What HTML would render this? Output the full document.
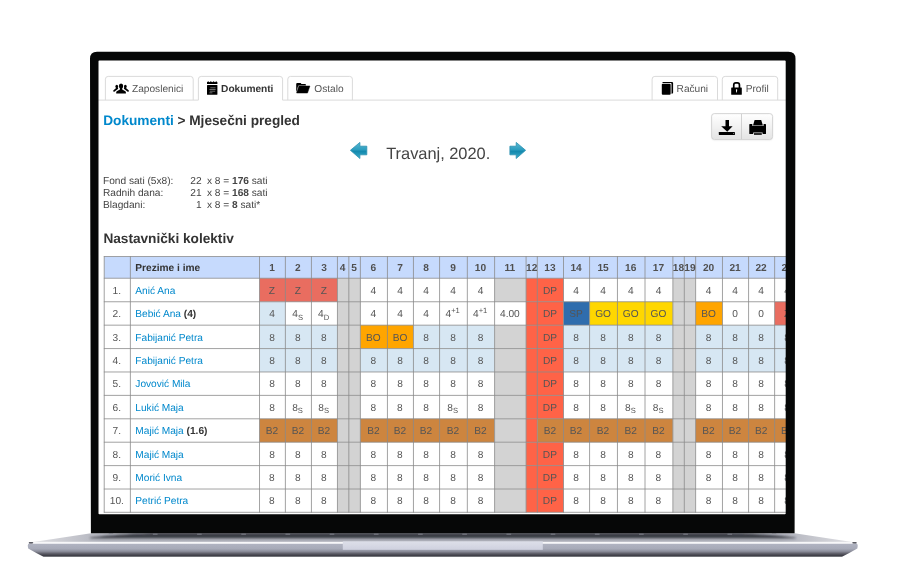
<!DOCTYPE html>
<html lang="hr"><head><meta charset="utf-8"><title>Mjesečni pregled</title>
<style>
html,body{margin:0;padding:0;background:#fff;}
body{text-rendering:geometricPrecision;width:898px;height:580px;position:relative;overflow:hidden;font-family:"Liberation Sans",Arial,sans-serif;font-size:13px;color:#333;line-height:15px;}
#screen{position:absolute;left:98px;top:60px;width:689px;height:455px;background:#fff;overflow:hidden;}
#cwrap{position:absolute;left:0;top:0;width:10px;height:10px;transform:translate(0.5px,0px);}
#content{position:absolute;left:0;top:0;width:3528px;height:2332px;font-size:52px;line-height:60px;transform:scale(0.194825) rotate(0.005deg);transform-origin:0 0;}
#content *{box-sizing:border-box;}
.tab{position:absolute;top:80px;height:124px;border:4px solid transparent;border-bottom:none;background:none;border-radius:16px 16px 0 0;color:#555;white-space:nowrap;}
.tab.act{height:128px;color:#333;font-weight:bold;}
.tab span{position:absolute;top:33.6px;}
h4{position:absolute;margin:0;font-size:70px;font-weight:bold;color:#333;white-space:nowrap;line-height:80px;}
h4 a{color:#0088cc;}
.info{position:absolute;left:23.2px;top:588px;width:1200px;white-space:pre;color:#444;line-height:61.4px;}
.info div{position:relative;height:61.4px;}
.info span{position:absolute;top:0;left:0;}
.info span.n{left:auto;right:694px;}
.info span.r{left:533.6px;}
.title{position:absolute;left:1476.8px;top:429.6px;font-size:84px;line-height:96px;color:#444;white-space:nowrap;}
.btng{position:absolute;left:3144.8px;top:272.8px;width:317.6px;height:137.6px;border:4px solid #c8c8c8;border-radius:16px;background:linear-gradient(#fff,#e4e4e4);box-shadow:0 4px 8px rgba(0,0,0,.06);}
.btng i{position:absolute;left:149.2px;top:0;width:4px;height:100%;background:#c8c8c8;}
.cells div{position:absolute;text-align:center;white-space:nowrap;color:#555;padding-right:4.8px;}
.cells div.ss{padding-right:8px;}
.cells div.h{font-weight:bold;color:#505050;}
.cells div.nm{text-align:left;padding-left:25.6px;color:#333;}
.cells div.nm a{color:#0088cc;}
sub,sup{font-size:39px;line-height:0;position:relative;vertical-align:baseline;}
sub{bottom:-12px;}
sup{top:-20.8px;}
</style></head><body>

<svg id="base" style="position:absolute;left:0;top:0" width="898" height="580" viewBox="0 0 898 580">
<defs>
<linearGradient id="gTop" x1="30" y1="0" x2="855.5" y2="0" gradientUnits="userSpaceOnUse"><stop offset="0" stop-color="#e2e2e6"/><stop offset="0.05" stop-color="#c6c7ce"/><stop offset="0.09" stop-color="#b0b2bc"/><stop offset="0.5" stop-color="#adafba"/><stop offset="0.91" stop-color="#b0b2bc"/><stop offset="0.95" stop-color="#c6c7ce"/><stop offset="1" stop-color="#e2e2e6"/></linearGradient>
<linearGradient id="gFace" x1="0" y1="543" x2="0" y2="556.8" gradientUnits="userSpaceOnUse"><stop offset="0" stop-color="#b2b5c3"/><stop offset="0.42" stop-color="#a7aab8"/><stop offset="0.6" stop-color="#8d8f9c"/><stop offset="0.78" stop-color="#5a5b65"/><stop offset="0.92" stop-color="#3c3d46"/><stop offset="1" stop-color="#474851"/></linearGradient>
<linearGradient id="gNotch" x1="0" y1="541.3" x2="0" y2="549.8" gradientUnits="userSpaceOnUse"><stop offset="0" stop-color="#dddfe9"/><stop offset="1" stop-color="#cfd1df"/></linearGradient>
<filter id="bl" x="-5%" y="-50%" width="110%" height="200%"><feGaussianBlur stdDeviation="0.55"/></filter>
<filter id="bl2" x="-5%" y="-100%" width="110%" height="300%"><feGaussianBlur stdDeviation="0.8"/></filter>
</defs>
<g filter="url(#bl)">
<path d="M30 542.4 L91 533.2 L794.5 533.2 L855.5 542.4 Z" fill="url(#gTop)"/>
<path filter="url(#bl2)" d="M90 537.4 C112 535.4 130 533 165 533 L720.5 533 C755.5 533 773.5 535.4 795.5 537.4 L795.5 538.2 L90 538.2 Z" fill="#3a3c45"/>
<rect x="108.6" y="533.6" width="4.8" height="1" rx="0.5" fill="#8f919b"/><rect x="152.8" y="533.6" width="4.8" height="1" rx="0.5" fill="#8f919b"/><rect x="197.0" y="533.6" width="4.8" height="1" rx="0.5" fill="#8f919b"/><rect x="241.2" y="533.6" width="4.8" height="1" rx="0.5" fill="#8f919b"/><rect x="285.4" y="533.6" width="4.8" height="1" rx="0.5" fill="#8f919b"/><rect x="329.6" y="533.6" width="4.8" height="1" rx="0.5" fill="#8f919b"/><rect x="373.8" y="533.6" width="4.8" height="1" rx="0.5" fill="#8f919b"/><rect x="418.0" y="533.6" width="4.8" height="1" rx="0.5" fill="#8f919b"/><rect x="462.2" y="533.6" width="4.8" height="1" rx="0.5" fill="#8f919b"/><rect x="506.4" y="533.6" width="4.8" height="1" rx="0.5" fill="#8f919b"/><rect x="550.6" y="533.6" width="4.8" height="1" rx="0.5" fill="#8f919b"/><rect x="594.8" y="533.6" width="4.8" height="1" rx="0.5" fill="#8f919b"/><rect x="639.0" y="533.6" width="4.8" height="1" rx="0.5" fill="#8f919b"/><rect x="683.2" y="533.6" width="4.8" height="1" rx="0.5" fill="#8f919b"/><rect x="727.4" y="533.6" width="4.8" height="1" rx="0.5" fill="#8f919b"/><rect x="771.6" y="533.6" width="4.8" height="1" rx="0.5" fill="#8f919b"/>
<path d="M29.5 543.2 Q27.6 543.6 27.8 546 L28.2 548.6 Q35 552.6 43.5 556.7 L842 556.7 Q850.5 552.6 857.3 548.6 L857.7 546 Q857.9 543.6 856 543.2 Z" fill="url(#gFace)"/>
<rect x="32" y="541.8" width="821.5" height="1.9" fill="#f7f7f9"/>
<rect x="342.8" y="541.4" width="200" height="8.4" fill="url(#gNotch)"/>
<rect x="28.8" y="541.9" width="4.4" height="1.5" rx="0.7" fill="#5b5c64"/>
<rect x="852.3" y="541.9" width="4.4" height="1.5" rx="0.7" fill="#5b5c64"/>
</g>

</svg>

<div id="screen"><svg id="grid" style="position:absolute;left:-98px;top:-60px" width="898" height="580" viewBox="0 0 898 580">
<path d="M105.4 100.1V79.2Q105.4 76.4 108.2 76.4H190.39999999999998Q193.2 76.4 193.2 79.2V100.1M198.4 100.1V79.2Q198.4 76.4 201.20000000000002 76.4H279.8Q282.6 76.4 282.6 79.2V100.1M287.8 100.1V79.2Q287.8 76.4 290.6 76.4H349.59999999999997Q352.4 76.4 352.4 79.2V100.1M652.1 100.1V79.2Q652.1 76.4 654.9 76.4H714.7Q717.5 76.4 717.5 79.2V100.1M722.3 100.1V79.2Q722.3 76.4 725.0999999999999 76.4H774.9000000000001Q777.7 76.4 777.7 79.2V100.1M98 100.1H198.4M282.6 100.1H787" stroke="#d8d8d8" stroke-width="0.95" fill="none"/>
<rect x="104.22" y="256.52" width="696.48" height="21.72" fill="#c6dafd"/>
<rect x="259.52" y="278.24" width="77.93" height="23.51" fill="#e96d60"/>
<rect x="337.45" y="278.24" width="22.92" height="23.51" fill="#d3d3d3"/>
<rect x="494.60" y="278.24" width="31.49" height="23.51" fill="#d3d3d3"/>
<rect x="526.09" y="278.24" width="37.41" height="23.51" fill="#ff6347"/>
<rect x="672.88" y="278.24" width="22.75" height="23.51" fill="#d3d3d3"/>
<rect x="259.52" y="301.75" width="25.86" height="23.41" fill="#d7e7f3"/>
<rect x="337.45" y="301.75" width="22.92" height="23.41" fill="#d3d3d3"/>
<rect x="526.09" y="301.75" width="37.41" height="23.41" fill="#ff6347"/>
<rect x="563.50" y="301.75" width="26.08" height="23.41" fill="#2f6dad"/>
<rect x="589.58" y="301.75" width="83.30" height="23.41" fill="#ffd700"/>
<rect x="672.88" y="301.75" width="22.75" height="23.41" fill="#d3d3d3"/>
<rect x="695.63" y="301.75" width="26.83" height="23.41" fill="#ffa500"/>
<rect x="774.64" y="301.75" width="26.06" height="23.41" fill="#e96d60"/>
<rect x="259.52" y="325.16" width="77.93" height="23.41" fill="#d7e7f3"/>
<rect x="337.45" y="325.16" width="22.92" height="23.41" fill="#d3d3d3"/>
<rect x="360.37" y="325.16" width="53.08" height="23.41" fill="#ffa500"/>
<rect x="413.45" y="325.16" width="81.15" height="23.41" fill="#d7e7f3"/>
<rect x="494.60" y="325.16" width="31.49" height="23.41" fill="#d3d3d3"/>
<rect x="526.09" y="325.16" width="37.41" height="23.41" fill="#ff6347"/>
<rect x="563.50" y="325.16" width="109.38" height="23.41" fill="#d7e7f3"/>
<rect x="672.88" y="325.16" width="22.75" height="23.41" fill="#d3d3d3"/>
<rect x="695.63" y="325.16" width="105.07" height="23.41" fill="#d7e7f3"/>
<rect x="259.52" y="348.57" width="77.93" height="23.41" fill="#d7e7f3"/>
<rect x="337.45" y="348.57" width="22.92" height="23.41" fill="#d3d3d3"/>
<rect x="360.37" y="348.57" width="134.23" height="23.41" fill="#d7e7f3"/>
<rect x="494.60" y="348.57" width="31.49" height="23.41" fill="#d3d3d3"/>
<rect x="526.09" y="348.57" width="37.41" height="23.41" fill="#ff6347"/>
<rect x="563.50" y="348.57" width="109.38" height="23.41" fill="#d7e7f3"/>
<rect x="672.88" y="348.57" width="22.75" height="23.41" fill="#d3d3d3"/>
<rect x="695.63" y="348.57" width="105.07" height="23.41" fill="#d7e7f3"/>
<rect x="337.45" y="371.98" width="22.92" height="23.41" fill="#d3d3d3"/>
<rect x="494.60" y="371.98" width="31.49" height="23.41" fill="#d3d3d3"/>
<rect x="526.09" y="371.98" width="37.41" height="23.41" fill="#ff6347"/>
<rect x="672.88" y="371.98" width="22.75" height="23.41" fill="#d3d3d3"/>
<rect x="337.45" y="395.39" width="22.92" height="23.41" fill="#d3d3d3"/>
<rect x="494.60" y="395.39" width="31.49" height="23.41" fill="#d3d3d3"/>
<rect x="526.09" y="395.39" width="37.41" height="23.41" fill="#ff6347"/>
<rect x="672.88" y="395.39" width="22.75" height="23.41" fill="#d3d3d3"/>
<rect x="259.52" y="418.80" width="77.93" height="23.41" fill="#cd853f"/>
<rect x="337.45" y="418.80" width="22.92" height="23.41" fill="#d3d3d3"/>
<rect x="360.37" y="418.80" width="134.23" height="23.41" fill="#cd853f"/>
<rect x="494.60" y="418.80" width="31.49" height="23.41" fill="#d3d3d3"/>
<rect x="526.09" y="418.80" width="11.23" height="23.41" fill="#ff6347"/>
<rect x="537.32" y="418.80" width="135.56" height="23.41" fill="#cd853f"/>
<rect x="672.88" y="418.80" width="22.75" height="23.41" fill="#d3d3d3"/>
<rect x="695.63" y="418.80" width="105.07" height="23.41" fill="#cd853f"/>
<rect x="337.45" y="442.21" width="22.92" height="23.41" fill="#d3d3d3"/>
<rect x="494.60" y="442.21" width="31.49" height="23.41" fill="#d3d3d3"/>
<rect x="526.09" y="442.21" width="37.41" height="23.41" fill="#ff6347"/>
<rect x="672.88" y="442.21" width="22.75" height="23.41" fill="#d3d3d3"/>
<rect x="337.45" y="465.62" width="22.92" height="23.41" fill="#d3d3d3"/>
<rect x="494.60" y="465.62" width="31.49" height="23.41" fill="#d3d3d3"/>
<rect x="526.09" y="465.62" width="37.41" height="23.41" fill="#ff6347"/>
<rect x="672.88" y="465.62" width="22.75" height="23.41" fill="#d3d3d3"/>
<rect x="337.45" y="489.03" width="22.92" height="23.27" fill="#d3d3d3"/>
<rect x="494.60" y="489.03" width="31.49" height="23.27" fill="#d3d3d3"/>
<rect x="526.09" y="489.03" width="37.41" height="23.27" fill="#ff6347"/>
<rect x="672.88" y="489.03" width="22.75" height="23.27" fill="#d3d3d3"/>
<path d="M104.22 256.13V512.69M130.38 256.13V512.69M259.52 256.13V512.69M285.38 256.13V512.69M311.43 256.13V512.69M337.45 256.13V512.69M348.84 256.13V512.69M360.37 256.13V512.69M387.43 256.13V512.69M413.45 256.13V512.69M439.58 256.13V512.69M467.34 256.13V512.69M494.60 256.13V512.69M526.09 256.13V512.69M537.32 256.13V512.69M563.50 256.13V512.69M589.58 256.13V512.69M617.44 256.13V512.69M645.00 256.13V512.69M672.88 256.13V512.69M684.31 256.13V512.69M695.63 256.13V512.69M722.46 256.13V512.69M748.58 256.13V512.69M774.64 256.13V512.69M800.70 256.13V512.69M103.83 256.52H800.70M103.83 278.24H800.70M103.83 301.75H800.70M103.83 325.16H800.70M103.83 348.57H800.70M103.83 371.98H800.70M103.83 395.39H800.70M103.83 418.80H800.70M103.83 442.21H800.70M103.83 465.62H800.70M103.83 489.03H800.70M103.83 512.30H800.70" stroke="#8a8a8a" stroke-width="0.8" fill="none"/>
</svg><div id="cwrap"><div id="content">
<div class="tab" style="left:30.4px;width:457.6px;"><span style="left:137.6px">Zaposlenici</span></div>
<div class="tab act" style="left:508px;width:438.8px;"><span style="left:117.2px">Dokumenti</span></div>
<div class="tab" style="left:967.2px;width:338px;"><span style="left:136.4px">Ostalo</span></div>
<div class="tab" style="left:2837.6px;width:341.6px;"><span style="left:125.6px">Računi</span></div>
<div class="tab" style="left:3198px;width:290.4px;"><span style="left:119.6px">Profil</span></div>
<h4 style="left:24.4px;top:270px;"><a>Dokumenti</a> &gt; Mjesečni pregled</h4>
<div class="btng"><i></i></div>
<div class="title">Travanj, 2020.</div>
<div class="info"><div><span>Fond sati (5x8):</span><span class="n">22</span><span class="r">x 8 = <b>176</b> sati</span></div><div><span>Radnih dana:</span><span class="n">21</span><span class="r">x 8 = <b>168</b> sati</span></div><div><span>Blagdani:</span><span class="n">1</span><span class="r">x 8 = <b>8</b> sati*</span></div></div>
<h4 style="left:25.2px;top:876px;">Nastavnički kolektiv</h4>
<div class="cells">
<div class="h nm" style="left:163.64px;top:1010.24px;width:662.84px;height:111.48px;line-height:111.48px">Prezime i ime</div>
<div class="h" style="left:826.48px;top:1010.24px;width:132.72px;height:111.48px;line-height:111.48px">1</div>
<div class="h" style="left:959.2px;top:1010.24px;width:133.72px;height:111.48px;line-height:111.48px">2</div>
<div class="h" style="left:1092.92px;top:1010.24px;width:133.56px;height:111.48px;line-height:111.48px">3</div>
<div class="h" style="left:1226.48px;top:1010.24px;width:58.48px;height:111.48px;line-height:111.48px">4</div>
<div class="h" style="left:1284.96px;top:1010.24px;width:59.2px;height:111.48px;line-height:111.48px">5</div>
<div class="h" style="left:1344.12px;top:1010.24px;width:138.88px;height:111.48px;line-height:111.48px">6</div>
<div class="h" style="left:1483.04px;top:1010.24px;width:133.56px;height:111.48px;line-height:111.48px">7</div>
<div class="h" style="left:1616.56px;top:1010.24px;width:134.12px;height:111.48px;line-height:111.48px">8</div>
<div class="h" style="left:1750.68px;top:1010.24px;width:142.48px;height:111.48px;line-height:111.48px">9</div>
<div class="h" style="left:1893.2px;top:1010.24px;width:139.92px;height:111.48px;line-height:111.48px">10</div>
<div class="h" style="left:2033.12px;top:1010.24px;width:161.64px;height:111.48px;line-height:111.48px">11</div>
<div class="h" style="left:2194.72px;top:1010.24px;width:57.64px;height:111.48px;line-height:111.48px">12</div>
<div class="h" style="left:2252.4px;top:1010.24px;width:134.36px;height:111.48px;line-height:111.48px">13</div>
<div class="h" style="left:2386.76px;top:1010.24px;width:133.88px;height:111.48px;line-height:111.48px">14</div>
<div class="h" style="left:2520.64px;top:1010.24px;width:143px;height:111.48px;line-height:111.48px">15</div>
<div class="h" style="left:2663.64px;top:1010.24px;width:141.48px;height:111.48px;line-height:111.48px">16</div>
<div class="h" style="left:2805.08px;top:1010.24px;width:143.12px;height:111.48px;line-height:111.48px">17</div>
<div class="h" style="left:2948.2px;top:1010.24px;width:58.68px;height:111.48px;line-height:111.48px">18</div>
<div class="h" style="left:3006.84px;top:1010.24px;width:58.12px;height:111.48px;line-height:111.48px">19</div>
<div class="h" style="left:3064.96px;top:1010.24px;width:137.72px;height:111.48px;line-height:111.48px">20</div>
<div class="h" style="left:3202.68px;top:1010.24px;width:134.08px;height:111.48px;line-height:111.48px">21</div>
<div class="h" style="left:3336.72px;top:1010.24px;width:133.76px;height:111.48px;line-height:111.48px">22</div>
<div class="h" style="left:3470.48px;top:1010.24px;width:133.76px;height:111.48px;line-height:111.48px">23</div>
<div style="left:29.36px;top:1122.12px;width:134.28px;height:120.68px;line-height:120.68px">1.</div>
<div class="nm" style="left:163.64px;top:1122.12px;width:662.84px;height:120.68px;line-height:120.68px"><a>Anić Ana</a></div>
<div style="left:826.48px;top:1122.12px;width:132.72px;height:120.68px;line-height:120.68px">Z</div>
<div style="left:959.2px;top:1122.12px;width:133.72px;height:120.68px;line-height:120.68px">Z</div>
<div style="left:1092.92px;top:1122.12px;width:133.56px;height:120.68px;line-height:120.68px">Z</div>
<div style="left:1344.12px;top:1122.12px;width:138.88px;height:120.68px;line-height:120.68px">4</div>
<div style="left:1483.04px;top:1122.12px;width:133.56px;height:120.68px;line-height:120.68px">4</div>
<div style="left:1616.56px;top:1122.12px;width:134.12px;height:120.68px;line-height:120.68px">4</div>
<div style="left:1750.68px;top:1122.12px;width:142.48px;height:120.68px;line-height:120.68px">4</div>
<div style="left:1893.2px;top:1122.12px;width:139.92px;height:120.68px;line-height:120.68px">4</div>
<div style="left:2252.4px;top:1122.12px;width:134.36px;height:120.68px;line-height:120.68px">DP</div>
<div style="left:2386.76px;top:1122.12px;width:133.88px;height:120.68px;line-height:120.68px">4</div>
<div style="left:2520.64px;top:1122.12px;width:143px;height:120.68px;line-height:120.68px">4</div>
<div style="left:2663.64px;top:1122.12px;width:141.48px;height:120.68px;line-height:120.68px">4</div>
<div style="left:2805.08px;top:1122.12px;width:143.12px;height:120.68px;line-height:120.68px">4</div>
<div style="left:3064.96px;top:1122.12px;width:137.72px;height:120.68px;line-height:120.68px">4</div>
<div style="left:3202.68px;top:1122.12px;width:134.08px;height:120.68px;line-height:120.68px">4</div>
<div style="left:3336.72px;top:1122.12px;width:133.76px;height:120.68px;line-height:120.68px">4</div>
<div style="left:3470.48px;top:1122.12px;width:133.76px;height:120.68px;line-height:120.68px">4</div>
<div style="left:29.36px;top:1242.8px;width:134.28px;height:120.16px;line-height:120.16px">2.</div>
<div class="nm" style="left:163.64px;top:1242.8px;width:662.84px;height:120.16px;line-height:120.16px"><a>Bebić Ana</a> <b>(4)</b></div>
<div style="left:826.48px;top:1242.8px;width:132.72px;height:120.16px;line-height:120.16px">4</div>
<div class="ss" style="left:959.2px;top:1242.8px;width:133.72px;height:120.16px;line-height:120.16px">4<sub>S</sub></div>
<div class="ss" style="left:1092.92px;top:1242.8px;width:133.56px;height:120.16px;line-height:120.16px">4<sub>D</sub></div>
<div style="left:1344.12px;top:1242.8px;width:138.88px;height:120.16px;line-height:120.16px">4</div>
<div style="left:1483.04px;top:1242.8px;width:133.56px;height:120.16px;line-height:120.16px">4</div>
<div style="left:1616.56px;top:1242.8px;width:134.12px;height:120.16px;line-height:120.16px">4</div>
<div class="ss" style="left:1750.68px;top:1242.8px;width:142.48px;height:120.16px;line-height:120.16px">4<sup>+1</sup></div>
<div class="ss" style="left:1893.2px;top:1242.8px;width:139.92px;height:120.16px;line-height:120.16px">4<sup>+1</sup></div>
<div style="left:2033.12px;top:1242.8px;width:161.64px;height:120.16px;line-height:120.16px">4.00</div>
<div style="left:2252.4px;top:1242.8px;width:134.36px;height:120.16px;line-height:120.16px">DP</div>
<div style="left:2386.76px;top:1242.8px;width:133.88px;height:120.16px;line-height:120.16px">SP</div>
<div style="left:2520.64px;top:1242.8px;width:143px;height:120.16px;line-height:120.16px">GO</div>
<div style="left:2663.64px;top:1242.8px;width:141.48px;height:120.16px;line-height:120.16px">GO</div>
<div style="left:2805.08px;top:1242.8px;width:143.12px;height:120.16px;line-height:120.16px">GO</div>
<div style="left:3064.96px;top:1242.8px;width:137.72px;height:120.16px;line-height:120.16px">BO</div>
<div style="left:3202.68px;top:1242.8px;width:134.08px;height:120.16px;line-height:120.16px">0</div>
<div style="left:3336.72px;top:1242.8px;width:133.76px;height:120.16px;line-height:120.16px">0</div>
<div style="left:3470.48px;top:1242.8px;width:133.76px;height:120.16px;line-height:120.16px">Z</div>
<div style="left:29.36px;top:1362.96px;width:134.28px;height:120.16px;line-height:120.16px">3.</div>
<div class="nm" style="left:163.64px;top:1362.96px;width:662.84px;height:120.16px;line-height:120.16px"><a>Fabijanić Petra</a></div>
<div style="left:826.48px;top:1362.96px;width:132.72px;height:120.16px;line-height:120.16px">8</div>
<div style="left:959.2px;top:1362.96px;width:133.72px;height:120.16px;line-height:120.16px">8</div>
<div style="left:1092.92px;top:1362.96px;width:133.56px;height:120.16px;line-height:120.16px">8</div>
<div style="left:1344.12px;top:1362.96px;width:138.88px;height:120.16px;line-height:120.16px">BO</div>
<div style="left:1483.04px;top:1362.96px;width:133.56px;height:120.16px;line-height:120.16px">BO</div>
<div style="left:1616.56px;top:1362.96px;width:134.12px;height:120.16px;line-height:120.16px">8</div>
<div style="left:1750.68px;top:1362.96px;width:142.48px;height:120.16px;line-height:120.16px">8</div>
<div style="left:1893.2px;top:1362.96px;width:139.92px;height:120.16px;line-height:120.16px">8</div>
<div style="left:2252.4px;top:1362.96px;width:134.36px;height:120.16px;line-height:120.16px">DP</div>
<div style="left:2386.76px;top:1362.96px;width:133.88px;height:120.16px;line-height:120.16px">8</div>
<div style="left:2520.64px;top:1362.96px;width:143px;height:120.16px;line-height:120.16px">8</div>
<div style="left:2663.64px;top:1362.96px;width:141.48px;height:120.16px;line-height:120.16px">8</div>
<div style="left:2805.08px;top:1362.96px;width:143.12px;height:120.16px;line-height:120.16px">8</div>
<div style="left:3064.96px;top:1362.96px;width:137.72px;height:120.16px;line-height:120.16px">8</div>
<div style="left:3202.68px;top:1362.96px;width:134.08px;height:120.16px;line-height:120.16px">8</div>
<div style="left:3336.72px;top:1362.96px;width:133.76px;height:120.16px;line-height:120.16px">8</div>
<div style="left:3470.48px;top:1362.96px;width:133.76px;height:120.16px;line-height:120.16px">8</div>
<div style="left:29.36px;top:1483.12px;width:134.28px;height:120.16px;line-height:120.16px">4.</div>
<div class="nm" style="left:163.64px;top:1483.12px;width:662.84px;height:120.16px;line-height:120.16px"><a>Fabijanić Petra</a></div>
<div style="left:826.48px;top:1483.12px;width:132.72px;height:120.16px;line-height:120.16px">8</div>
<div style="left:959.2px;top:1483.12px;width:133.72px;height:120.16px;line-height:120.16px">8</div>
<div style="left:1092.92px;top:1483.12px;width:133.56px;height:120.16px;line-height:120.16px">8</div>
<div style="left:1344.12px;top:1483.12px;width:138.88px;height:120.16px;line-height:120.16px">8</div>
<div style="left:1483.04px;top:1483.12px;width:133.56px;height:120.16px;line-height:120.16px">8</div>
<div style="left:1616.56px;top:1483.12px;width:134.12px;height:120.16px;line-height:120.16px">8</div>
<div style="left:1750.68px;top:1483.12px;width:142.48px;height:120.16px;line-height:120.16px">8</div>
<div style="left:1893.2px;top:1483.12px;width:139.92px;height:120.16px;line-height:120.16px">8</div>
<div style="left:2252.4px;top:1483.12px;width:134.36px;height:120.16px;line-height:120.16px">DP</div>
<div style="left:2386.76px;top:1483.12px;width:133.88px;height:120.16px;line-height:120.16px">8</div>
<div style="left:2520.64px;top:1483.12px;width:143px;height:120.16px;line-height:120.16px">8</div>
<div style="left:2663.64px;top:1483.12px;width:141.48px;height:120.16px;line-height:120.16px">8</div>
<div style="left:2805.08px;top:1483.12px;width:143.12px;height:120.16px;line-height:120.16px">8</div>
<div style="left:3064.96px;top:1483.12px;width:137.72px;height:120.16px;line-height:120.16px">8</div>
<div style="left:3202.68px;top:1483.12px;width:134.08px;height:120.16px;line-height:120.16px">8</div>
<div style="left:3336.72px;top:1483.12px;width:133.76px;height:120.16px;line-height:120.16px">8</div>
<div style="left:3470.48px;top:1483.12px;width:133.76px;height:120.16px;line-height:120.16px">8</div>
<div style="left:29.36px;top:1603.28px;width:134.28px;height:120.16px;line-height:120.16px">5.</div>
<div class="nm" style="left:163.64px;top:1603.28px;width:662.84px;height:120.16px;line-height:120.16px"><a>Jovović Mila</a></div>
<div style="left:826.48px;top:1603.28px;width:132.72px;height:120.16px;line-height:120.16px">8</div>
<div style="left:959.2px;top:1603.28px;width:133.72px;height:120.16px;line-height:120.16px">8</div>
<div style="left:1092.92px;top:1603.28px;width:133.56px;height:120.16px;line-height:120.16px">8</div>
<div style="left:1344.12px;top:1603.28px;width:138.88px;height:120.16px;line-height:120.16px">8</div>
<div style="left:1483.04px;top:1603.28px;width:133.56px;height:120.16px;line-height:120.16px">8</div>
<div style="left:1616.56px;top:1603.28px;width:134.12px;height:120.16px;line-height:120.16px">8</div>
<div style="left:1750.68px;top:1603.28px;width:142.48px;height:120.16px;line-height:120.16px">8</div>
<div style="left:1893.2px;top:1603.28px;width:139.92px;height:120.16px;line-height:120.16px">8</div>
<div style="left:2252.4px;top:1603.28px;width:134.36px;height:120.16px;line-height:120.16px">DP</div>
<div style="left:2386.76px;top:1603.28px;width:133.88px;height:120.16px;line-height:120.16px">8</div>
<div style="left:2520.64px;top:1603.28px;width:143px;height:120.16px;line-height:120.16px">8</div>
<div style="left:2663.64px;top:1603.28px;width:141.48px;height:120.16px;line-height:120.16px">8</div>
<div style="left:2805.08px;top:1603.28px;width:143.12px;height:120.16px;line-height:120.16px">8</div>
<div style="left:3064.96px;top:1603.28px;width:137.72px;height:120.16px;line-height:120.16px">8</div>
<div style="left:3202.68px;top:1603.28px;width:134.08px;height:120.16px;line-height:120.16px">8</div>
<div style="left:3336.72px;top:1603.28px;width:133.76px;height:120.16px;line-height:120.16px">8</div>
<div style="left:3470.48px;top:1603.28px;width:133.76px;height:120.16px;line-height:120.16px">8</div>
<div style="left:29.36px;top:1723.44px;width:134.28px;height:120.16px;line-height:120.16px">6.</div>
<div class="nm" style="left:163.64px;top:1723.44px;width:662.84px;height:120.16px;line-height:120.16px"><a>Lukić Maja</a></div>
<div style="left:826.48px;top:1723.44px;width:132.72px;height:120.16px;line-height:120.16px">8</div>
<div class="ss" style="left:959.2px;top:1723.44px;width:133.72px;height:120.16px;line-height:120.16px">8<sub>S</sub></div>
<div class="ss" style="left:1092.92px;top:1723.44px;width:133.56px;height:120.16px;line-height:120.16px">8<sub>S</sub></div>
<div style="left:1344.12px;top:1723.44px;width:138.88px;height:120.16px;line-height:120.16px">8</div>
<div style="left:1483.04px;top:1723.44px;width:133.56px;height:120.16px;line-height:120.16px">8</div>
<div style="left:1616.56px;top:1723.44px;width:134.12px;height:120.16px;line-height:120.16px">8</div>
<div class="ss" style="left:1750.68px;top:1723.44px;width:142.48px;height:120.16px;line-height:120.16px">8<sub>S</sub></div>
<div style="left:1893.2px;top:1723.44px;width:139.92px;height:120.16px;line-height:120.16px">8</div>
<div style="left:2252.4px;top:1723.44px;width:134.36px;height:120.16px;line-height:120.16px">DP</div>
<div style="left:2386.76px;top:1723.44px;width:133.88px;height:120.16px;line-height:120.16px">8</div>
<div style="left:2520.64px;top:1723.44px;width:143px;height:120.16px;line-height:120.16px">8</div>
<div class="ss" style="left:2663.64px;top:1723.44px;width:141.48px;height:120.16px;line-height:120.16px">8<sub>S</sub></div>
<div class="ss" style="left:2805.08px;top:1723.44px;width:143.12px;height:120.16px;line-height:120.16px">8<sub>S</sub></div>
<div style="left:3064.96px;top:1723.44px;width:137.72px;height:120.16px;line-height:120.16px">8</div>
<div style="left:3202.68px;top:1723.44px;width:134.08px;height:120.16px;line-height:120.16px">8</div>
<div style="left:3336.72px;top:1723.44px;width:133.76px;height:120.16px;line-height:120.16px">8</div>
<div style="left:3470.48px;top:1723.44px;width:133.76px;height:120.16px;line-height:120.16px">8</div>
<div style="left:29.36px;top:1843.6px;width:134.28px;height:120.16px;line-height:120.16px">7.</div>
<div class="nm" style="left:163.64px;top:1843.6px;width:662.84px;height:120.16px;line-height:120.16px"><a>Majić Maja</a> <b>(1.6)</b></div>
<div style="left:826.48px;top:1843.6px;width:132.72px;height:120.16px;line-height:120.16px">B2</div>
<div style="left:959.2px;top:1843.6px;width:133.72px;height:120.16px;line-height:120.16px">B2</div>
<div style="left:1092.92px;top:1843.6px;width:133.56px;height:120.16px;line-height:120.16px">B2</div>
<div style="left:1344.12px;top:1843.6px;width:138.88px;height:120.16px;line-height:120.16px">B2</div>
<div style="left:1483.04px;top:1843.6px;width:133.56px;height:120.16px;line-height:120.16px">B2</div>
<div style="left:1616.56px;top:1843.6px;width:134.12px;height:120.16px;line-height:120.16px">B2</div>
<div style="left:1750.68px;top:1843.6px;width:142.48px;height:120.16px;line-height:120.16px">B2</div>
<div style="left:1893.2px;top:1843.6px;width:139.92px;height:120.16px;line-height:120.16px">B2</div>
<div style="left:2252.4px;top:1843.6px;width:134.36px;height:120.16px;line-height:120.16px">B2</div>
<div style="left:2386.76px;top:1843.6px;width:133.88px;height:120.16px;line-height:120.16px">B2</div>
<div style="left:2520.64px;top:1843.6px;width:143px;height:120.16px;line-height:120.16px">B2</div>
<div style="left:2663.64px;top:1843.6px;width:141.48px;height:120.16px;line-height:120.16px">B2</div>
<div style="left:2805.08px;top:1843.6px;width:143.12px;height:120.16px;line-height:120.16px">B2</div>
<div style="left:3064.96px;top:1843.6px;width:137.72px;height:120.16px;line-height:120.16px">B2</div>
<div style="left:3202.68px;top:1843.6px;width:134.08px;height:120.16px;line-height:120.16px">B2</div>
<div style="left:3336.72px;top:1843.6px;width:133.76px;height:120.16px;line-height:120.16px">B2</div>
<div style="left:3470.48px;top:1843.6px;width:133.76px;height:120.16px;line-height:120.16px">B2</div>
<div style="left:29.36px;top:1963.76px;width:134.28px;height:120.16px;line-height:120.16px">8.</div>
<div class="nm" style="left:163.64px;top:1963.76px;width:662.84px;height:120.16px;line-height:120.16px"><a>Majić Maja</a></div>
<div style="left:826.48px;top:1963.76px;width:132.72px;height:120.16px;line-height:120.16px">8</div>
<div style="left:959.2px;top:1963.76px;width:133.72px;height:120.16px;line-height:120.16px">8</div>
<div style="left:1092.92px;top:1963.76px;width:133.56px;height:120.16px;line-height:120.16px">8</div>
<div style="left:1344.12px;top:1963.76px;width:138.88px;height:120.16px;line-height:120.16px">8</div>
<div style="left:1483.04px;top:1963.76px;width:133.56px;height:120.16px;line-height:120.16px">8</div>
<div style="left:1616.56px;top:1963.76px;width:134.12px;height:120.16px;line-height:120.16px">8</div>
<div style="left:1750.68px;top:1963.76px;width:142.48px;height:120.16px;line-height:120.16px">8</div>
<div style="left:1893.2px;top:1963.76px;width:139.92px;height:120.16px;line-height:120.16px">8</div>
<div style="left:2252.4px;top:1963.76px;width:134.36px;height:120.16px;line-height:120.16px">DP</div>
<div style="left:2386.76px;top:1963.76px;width:133.88px;height:120.16px;line-height:120.16px">8</div>
<div style="left:2520.64px;top:1963.76px;width:143px;height:120.16px;line-height:120.16px">8</div>
<div style="left:2663.64px;top:1963.76px;width:141.48px;height:120.16px;line-height:120.16px">8</div>
<div style="left:2805.08px;top:1963.76px;width:143.12px;height:120.16px;line-height:120.16px">8</div>
<div style="left:3064.96px;top:1963.76px;width:137.72px;height:120.16px;line-height:120.16px">8</div>
<div style="left:3202.68px;top:1963.76px;width:134.08px;height:120.16px;line-height:120.16px">8</div>
<div style="left:3336.72px;top:1963.76px;width:133.76px;height:120.16px;line-height:120.16px">8</div>
<div style="left:3470.48px;top:1963.76px;width:133.76px;height:120.16px;line-height:120.16px">8</div>
<div style="left:29.36px;top:2083.92px;width:134.28px;height:120.16px;line-height:120.16px">9.</div>
<div class="nm" style="left:163.64px;top:2083.92px;width:662.84px;height:120.16px;line-height:120.16px"><a>Morić Ivna</a></div>
<div style="left:826.48px;top:2083.92px;width:132.72px;height:120.16px;line-height:120.16px">8</div>
<div style="left:959.2px;top:2083.92px;width:133.72px;height:120.16px;line-height:120.16px">8</div>
<div style="left:1092.92px;top:2083.92px;width:133.56px;height:120.16px;line-height:120.16px">8</div>
<div style="left:1344.12px;top:2083.92px;width:138.88px;height:120.16px;line-height:120.16px">8</div>
<div style="left:1483.04px;top:2083.92px;width:133.56px;height:120.16px;line-height:120.16px">8</div>
<div style="left:1616.56px;top:2083.92px;width:134.12px;height:120.16px;line-height:120.16px">8</div>
<div style="left:1750.68px;top:2083.92px;width:142.48px;height:120.16px;line-height:120.16px">8</div>
<div style="left:1893.2px;top:2083.92px;width:139.92px;height:120.16px;line-height:120.16px">8</div>
<div style="left:2252.4px;top:2083.92px;width:134.36px;height:120.16px;line-height:120.16px">DP</div>
<div style="left:2386.76px;top:2083.92px;width:133.88px;height:120.16px;line-height:120.16px">8</div>
<div style="left:2520.64px;top:2083.92px;width:143px;height:120.16px;line-height:120.16px">8</div>
<div style="left:2663.64px;top:2083.92px;width:141.48px;height:120.16px;line-height:120.16px">8</div>
<div style="left:2805.08px;top:2083.92px;width:143.12px;height:120.16px;line-height:120.16px">8</div>
<div style="left:3064.96px;top:2083.92px;width:137.72px;height:120.16px;line-height:120.16px">8</div>
<div style="left:3202.68px;top:2083.92px;width:134.08px;height:120.16px;line-height:120.16px">8</div>
<div style="left:3336.72px;top:2083.92px;width:133.76px;height:120.16px;line-height:120.16px">8</div>
<div style="left:3470.48px;top:2083.92px;width:133.76px;height:120.16px;line-height:120.16px">8</div>
<div style="left:29.36px;top:2204.08px;width:134.28px;height:119.44px;line-height:119.44px">10.</div>
<div class="nm" style="left:163.64px;top:2204.08px;width:662.84px;height:119.44px;line-height:119.44px"><a>Petrić Petra</a></div>
<div style="left:826.48px;top:2204.08px;width:132.72px;height:119.44px;line-height:119.44px">8</div>
<div style="left:959.2px;top:2204.08px;width:133.72px;height:119.44px;line-height:119.44px">8</div>
<div style="left:1092.92px;top:2204.08px;width:133.56px;height:119.44px;line-height:119.44px">8</div>
<div style="left:1344.12px;top:2204.08px;width:138.88px;height:119.44px;line-height:119.44px">8</div>
<div style="left:1483.04px;top:2204.08px;width:133.56px;height:119.44px;line-height:119.44px">8</div>
<div style="left:1616.56px;top:2204.08px;width:134.12px;height:119.44px;line-height:119.44px">8</div>
<div style="left:1750.68px;top:2204.08px;width:142.48px;height:119.44px;line-height:119.44px">8</div>
<div style="left:1893.2px;top:2204.08px;width:139.92px;height:119.44px;line-height:119.44px">8</div>
<div style="left:2252.4px;top:2204.08px;width:134.36px;height:119.44px;line-height:119.44px">DP</div>
<div style="left:2386.76px;top:2204.08px;width:133.88px;height:119.44px;line-height:119.44px">8</div>
<div style="left:2520.64px;top:2204.08px;width:143px;height:119.44px;line-height:119.44px">8</div>
<div style="left:2663.64px;top:2204.08px;width:141.48px;height:119.44px;line-height:119.44px">8</div>
<div style="left:2805.08px;top:2204.08px;width:143.12px;height:119.44px;line-height:119.44px">8</div>
<div style="left:3064.96px;top:2204.08px;width:137.72px;height:119.44px;line-height:119.44px">8</div>
<div style="left:3202.68px;top:2204.08px;width:134.08px;height:119.44px;line-height:119.44px">8</div>
<div style="left:3336.72px;top:2204.08px;width:133.76px;height:119.44px;line-height:119.44px">8</div>
<div style="left:3470.48px;top:2204.08px;width:133.76px;height:119.44px;line-height:119.44px">8</div>
</div>
</div></div></div>

<svg id="icons" style="position:absolute;left:0;top:0" width="898" height="580" viewBox="0 0 898 580">
<defs>
<linearGradient id="gArr" x1="0" y1="142" x2="0" y2="159" gradientUnits="userSpaceOnUse"><stop offset="0" stop-color="#5bbbd4"/><stop offset="0.45" stop-color="#2c9dbf"/><stop offset="0.55" stop-color="#1389ae"/><stop offset="1" stop-color="#3fb0cd"/></linearGradient>
</defs>
<path fill-rule="evenodd" d="M90 58.7 Q90 51.7 97 51.7 L788.5 51.7 Q795.5 51.7 795.5 58.7 L794.6 533.3 L90.9 533.3 Z M99.3 60.4 Q98.5 60.4 98.5 61.2 V513.4 Q98.5 514.2 99.3 514.2 H784.9 Q785.7 514.2 785.7 513.4 V61.2 Q785.7 60.4 784.9 60.4 Z" fill="#060707"/>
<!-- arrows -->
<path d="M350.4 150.3 L359.9 142.4 L359.9 146.2 L366.8 146.2 L366.8 154.8 L359.9 154.8 L359.9 158.5 Z" fill="url(#gArr)" stroke="#2a8fb0" stroke-width="0.8" stroke-linejoin="round"/>
<path d="M525.6 150.3 L516.2 142.4 L516.2 146.2 L509.9 146.2 L509.9 154.8 L516.2 154.8 L516.2 158.5 Z" fill="url(#gArr)" stroke="#2a8fb0" stroke-width="0.8" stroke-linejoin="round"/>
<!-- group icon -->
<g fill="#000">
<ellipse cx="121.05" cy="85.9" rx="2.15" ry="2.5"/>
<path d="M119.9 87.5 H122.2 V89.6 L125.3 91.3 Q125.9 91.7 125.9 92.5 V93.6 H116.2 V92.5 Q116.2 91.7 116.8 91.3 L119.9 89.6 Z"/>
<ellipse cx="116.75" cy="86.5" rx="1.35" ry="1.65"/>
<ellipse cx="125.35" cy="86.5" rx="1.35" ry="1.65"/>
<path d="M117.3 88.2 L114.1 90.9 M124.8 88.2 L128 90.9" stroke="#000" stroke-width="1.8" stroke-linecap="round" fill="none"/>
</g>
<!-- notepad icon -->
<g>
<path d="M207 82.2 L208.2 81.3 L209.4 82.2 L210.8 81.3 L212.2 82.2 L213.6 81.3 L215 82.2 L216.2 81.3 L217.4 82.2 V83.9 H207 Z" fill="#000"/>
<rect x="207" y="85" width="10.4" height="9.8" rx="0.5" fill="#000"/>
<rect x="210.3" y="87.3" width="5.2" height="1" fill="#6a6a6a"/>
<rect x="209.4" y="89" width="6.2" height="1" fill="#6a6a6a"/>
<rect x="209.8" y="90.7" width="5.4" height="1" fill="#6a6a6a"/>
<rect x="209.4" y="92.3" width="3" height="1" fill="#6a6a6a"/>
</g>
<!-- folder open icon -->
<g fill="#000">
<path d="M296.2 84 Q296.2 83 297.2 83 H300.4 Q301 83 301.4 83.9 H305.2 Q305.9 83.9 305.9 84.7 V85.45 H298.9 Q298.25 85.45 298 86.2 L296.55 91.4 L296.2 91.4 Z"/>
<path d="M298.9 86 H309.9 L307.5 93 H296.6 Z" stroke="#000" stroke-width="0.5" stroke-linejoin="round"/>
</g>
<!-- book icon -->
<g>
<path d="M663.2 81.9 H671.9 Q673.1 81.9 673.1 83.1 V92.8 Q673.1 93.7 671.5 93.7 V83.7 Q671.5 83 670.8 83 H662.3 Q662.4 81.9 663.2 81.9 Z" fill="#000"/>
<rect x="661.8" y="83.65" width="8.85" height="11.15" rx="1" fill="#000"/>
</g>
<!-- lock icon -->
<g>
<rect x="731.2" y="87.4" width="10.6" height="7.4" rx="0.6" fill="#000"/>
<path d="M733.75 88 V85 Q733.75 82.95 735.8 82.95 H737.4 Q739.45 82.95 739.45 85 V88" fill="none" stroke="#000" stroke-width="1.7"/>
<path d="M735.85 89.6 Q736.55 89 737.25 89.6 L736.85 92.6 H736.25 Z" fill="#fff"/>
</g>
<!-- download icon -->
<g fill="#000">
<path d="M725.5 119.9 H729 V126.3 H732.6 L727.25 131.8 L721.2 126.3 H725.5 Z"/>
<rect x="718.8" y="132.1" width="16.2" height="2.8" rx="0.4"/>
<rect x="733" y="133.1" width="1.2" height="0.9" fill="#888"/>
</g>
<!-- print icon -->
<g>
<path d="M754.6 119.9 H761.2 L762.9 125.4 H753 Z" fill="#000"/>
<path d="M749.9 124.1 H752.4 L752.2 125.1 Q752.1 126 753 126 H762.9 Q763.8 126 763.7 125.1 L763.5 124.1 H765.4 Q766 124.1 766 124.7 V133.5 Q766 134.1 765.4 134.1 H762.6 V132.4 H753.2 V134.1 H749.9 Q749.3 134.1 749.3 133.5 V124.7 Q749.3 124.1 749.9 124.1 Z" fill="#000"/>
<rect x="754" y="133.2" width="7.8" height="1.6" fill="#000"/>
</g>
</svg>
</body></html>
